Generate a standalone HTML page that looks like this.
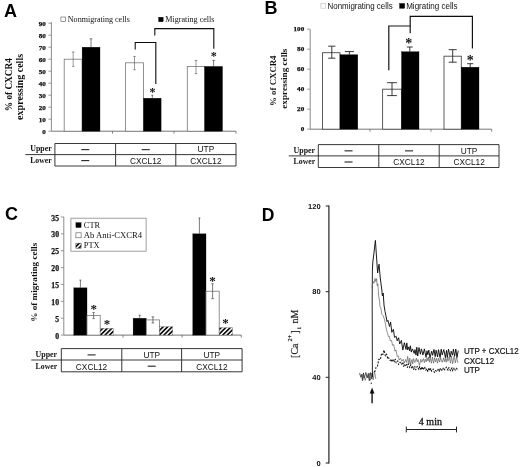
<!DOCTYPE html>
<html lang="en"><head><meta charset="utf-8"><title>Figure</title>
<style>html,body{margin:0;padding:0;background:#fff}body{width:520px;height:467px;overflow:hidden}svg{display:block}.se{font-family:"Liberation Serif",serif}.sa{font-family:"Liberation Sans",sans-serif}</style></head><body>
<svg width="520" height="467" viewBox="0 0 520 467">
<defs><pattern id="hatch" width="3.2" height="3.2" patternUnits="userSpaceOnUse" patternTransform="rotate(-45)"><rect width="3.2" height="3.2" fill="#fff"/><rect width="3.2" height="1.7" fill="#111"/></pattern><filter id="soft" x="-2%" y="-2%" width="104%" height="104%"><feGaussianBlur stdDeviation="0.35"/></filter></defs>
<rect width="520" height="467" fill="#fff"/>
<g filter="url(#soft)">
<text class="sa" x="4.0" y="16.6" font-size="18" font-weight="bold" fill="#000">A</text>
<line x1="51.4" y1="22.1" x2="51.4" y2="131.2" stroke="#808080" stroke-width="0.9"/>
<line x1="51.4" y1="131.2" x2="236" y2="131.2" stroke="#666" stroke-width="0.9"/>
<line x1="48.4" y1="131.2" x2="51.4" y2="131.2" stroke="#808080" stroke-width="0.8"/>
<text class="se" x="45.9" y="133.7" font-size="6.4" font-weight="bold" text-anchor="end" fill="#111" textLength="3.55" lengthAdjust="spacingAndGlyphs" stroke="#111" stroke-width="0.25">0</text>
<line x1="48.4" y1="119.19999999999999" x2="51.4" y2="119.19999999999999" stroke="#808080" stroke-width="0.8"/>
<text class="se" x="45.9" y="121.7" font-size="6.4" font-weight="bold" text-anchor="end" fill="#111" textLength="7.1" lengthAdjust="spacingAndGlyphs" stroke="#111" stroke-width="0.25">10</text>
<line x1="48.4" y1="107.19999999999999" x2="51.4" y2="107.19999999999999" stroke="#808080" stroke-width="0.8"/>
<text class="se" x="45.9" y="109.7" font-size="6.4" font-weight="bold" text-anchor="end" fill="#111" textLength="7.1" lengthAdjust="spacingAndGlyphs" stroke="#111" stroke-width="0.25">20</text>
<line x1="48.4" y1="95.19999999999999" x2="51.4" y2="95.19999999999999" stroke="#808080" stroke-width="0.8"/>
<text class="se" x="45.9" y="97.7" font-size="6.4" font-weight="bold" text-anchor="end" fill="#111" textLength="7.1" lengthAdjust="spacingAndGlyphs" stroke="#111" stroke-width="0.25">30</text>
<line x1="48.4" y1="83.19999999999999" x2="51.4" y2="83.19999999999999" stroke="#808080" stroke-width="0.8"/>
<text class="se" x="45.9" y="85.7" font-size="6.4" font-weight="bold" text-anchor="end" fill="#111" textLength="7.1" lengthAdjust="spacingAndGlyphs" stroke="#111" stroke-width="0.25">40</text>
<line x1="48.4" y1="71.19999999999999" x2="51.4" y2="71.19999999999999" stroke="#808080" stroke-width="0.8"/>
<text class="se" x="45.9" y="73.7" font-size="6.4" font-weight="bold" text-anchor="end" fill="#111" textLength="7.1" lengthAdjust="spacingAndGlyphs" stroke="#111" stroke-width="0.25">50</text>
<line x1="48.4" y1="59.19999999999999" x2="51.4" y2="59.19999999999999" stroke="#808080" stroke-width="0.8"/>
<text class="se" x="45.9" y="61.7" font-size="6.4" font-weight="bold" text-anchor="end" fill="#111" textLength="7.1" lengthAdjust="spacingAndGlyphs" stroke="#111" stroke-width="0.25">60</text>
<line x1="48.4" y1="47.19999999999999" x2="51.4" y2="47.19999999999999" stroke="#808080" stroke-width="0.8"/>
<text class="se" x="45.9" y="49.7" font-size="6.4" font-weight="bold" text-anchor="end" fill="#111" textLength="7.1" lengthAdjust="spacingAndGlyphs" stroke="#111" stroke-width="0.25">70</text>
<line x1="48.4" y1="35.19999999999999" x2="51.4" y2="35.19999999999999" stroke="#808080" stroke-width="0.8"/>
<text class="se" x="45.9" y="37.7" font-size="6.4" font-weight="bold" text-anchor="end" fill="#111" textLength="7.1" lengthAdjust="spacingAndGlyphs" stroke="#111" stroke-width="0.25">80</text>
<line x1="48.4" y1="23.19999999999999" x2="51.4" y2="23.19999999999999" stroke="#808080" stroke-width="0.8"/>
<text class="se" x="45.9" y="25.7" font-size="6.4" font-weight="bold" text-anchor="end" fill="#111" textLength="7.1" lengthAdjust="spacingAndGlyphs" stroke="#111" stroke-width="0.25">90</text>
<line x1="112.5" y1="131.2" x2="112.5" y2="133.7" stroke="#666" stroke-width="0.8"/>
<line x1="174" y1="131.2" x2="174" y2="133.7" stroke="#666" stroke-width="0.8"/>
<line x1="236" y1="131.2" x2="236" y2="133.7" stroke="#666" stroke-width="0.8"/>
<text class="se" transform="translate(11.6 84.7) rotate(-90)" font-size="9.3" font-weight="bold" text-anchor="middle" fill="#111" textLength="53" lengthAdjust="spacingAndGlyphs">% of CXCR4</text>
<text class="se" transform="translate(22.7 86.9) rotate(-90)" font-size="9.6" font-weight="bold" text-anchor="middle" fill="#111" textLength="66" lengthAdjust="spacingAndGlyphs">expressing cells</text>
<rect x="60.90" y="17.00" width="4.60" height="4.60" fill="#fff" stroke="#555" stroke-width="0.6"/>
<text class="se" x="67.8" y="22.2" font-size="8.4" fill="#111" textLength="62" lengthAdjust="spacingAndGlyphs">Nonmigrating cells</text>
<rect x="158.60" y="17.20" width="4.60" height="4.60" fill="#000" stroke="#000" stroke-width="0.3"/>
<text class="se" x="165.2" y="22.2" font-size="8.4" fill="#111" textLength="49.3" lengthAdjust="spacingAndGlyphs">Migrating cells</text>
<rect x="64.20" y="59.20" width="17.90" height="72.00" fill="#fff" stroke="#777" stroke-width="0.8"/>
<rect x="82.10" y="47.20" width="17.90" height="84.00" fill="#000" stroke="#000" stroke-width="0.3"/>
<rect x="125.40" y="62.80" width="18.10" height="68.40" fill="#fff" stroke="#777" stroke-width="0.8"/>
<rect x="143.50" y="98.20" width="17.60" height="33.00" fill="#000" stroke="#000" stroke-width="0.3"/>
<rect x="187.30" y="66.40" width="17.40" height="64.80" fill="#fff" stroke="#777" stroke-width="0.8"/>
<rect x="204.70" y="66.40" width="17.80" height="64.80" fill="#000" stroke="#000" stroke-width="0.3"/>
<line x1="73.2" y1="51.999999999999986" x2="73.2" y2="66.39999999999999" stroke="#555" stroke-width="0.6"/>
<line x1="71.9" y1="51.999999999999986" x2="74.5" y2="51.999999999999986" stroke="#555" stroke-width="0.6"/>
<line x1="71.9" y1="66.39999999999999" x2="74.5" y2="66.39999999999999" stroke="#555" stroke-width="0.6"/>
<line x1="91" y1="38.8" x2="91" y2="47.19999999999999" stroke="#444" stroke-width="0.7"/>
<line x1="89.7" y1="38.8" x2="92.3" y2="38.8" stroke="#444" stroke-width="0.7"/>
<line x1="134.5" y1="56.44" x2="134.5" y2="69.75999999999999" stroke="#555" stroke-width="0.6"/>
<line x1="133.2" y1="56.44" x2="135.8" y2="56.44" stroke="#555" stroke-width="0.6"/>
<line x1="133.2" y1="69.75999999999999" x2="135.8" y2="69.75999999999999" stroke="#555" stroke-width="0.6"/>
<line x1="152.3" y1="95.19999999999999" x2="152.3" y2="98.19999999999999" stroke="#444" stroke-width="0.7"/>
<line x1="151.3" y1="95.19999999999999" x2="153.3" y2="95.19999999999999" stroke="#444" stroke-width="0.7"/>
<line x1="196" y1="60.39999999999999" x2="196" y2="73.6" stroke="#555" stroke-width="0.6"/>
<line x1="194.7" y1="60.39999999999999" x2="197.3" y2="60.39999999999999" stroke="#555" stroke-width="0.6"/>
<line x1="194.7" y1="73.6" x2="197.3" y2="73.6" stroke="#555" stroke-width="0.6"/>
<line x1="213.6" y1="60.39999999999999" x2="213.6" y2="66.39999999999999" stroke="#444" stroke-width="0.7"/>
<line x1="212.29999999999998" y1="60.39999999999999" x2="214.9" y2="60.39999999999999" stroke="#444" stroke-width="0.7"/>
<path d="M154.8 35.6V28.6H213.8V48.8" fill="none" stroke="#111" stroke-width="1.1"/>
<path d="M135.2 49.4V42.5H155.8V84" fill="none" stroke="#111" stroke-width="1.1"/>
<text class="se" x="152.4" y="95.9" font-size="12" font-weight="bold" text-anchor="middle" fill="#111">*</text>
<text class="se" x="213.7" y="60.2" font-size="12" font-weight="bold" text-anchor="middle" fill="#111">*</text>
<line x1="54.9" y1="143.5" x2="236" y2="143.5" stroke="#222" stroke-width="0.9"/>
<line x1="25.3" y1="154.6" x2="236" y2="154.6" stroke="#222" stroke-width="0.9"/>
<line x1="54.9" y1="166.0" x2="236" y2="166.0" stroke="#222" stroke-width="0.9"/>
<line x1="54.9" y1="143.5" x2="54.9" y2="166.0" stroke="#222" stroke-width="0.9"/>
<line x1="236" y1="143.5" x2="236" y2="166.0" stroke="#222" stroke-width="0.9"/>
<line x1="115.6" y1="143.5" x2="115.6" y2="166.0" stroke="#222" stroke-width="0.9"/>
<line x1="175.8" y1="143.5" x2="175.8" y2="166.0" stroke="#222" stroke-width="0.9"/>
<text class="se" x="30.2" y="151.29999999999998" font-size="8.6" font-weight="bold" fill="#111" textLength="21.5" lengthAdjust="spacingAndGlyphs">Upper</text>
<text class="se" x="30.2" y="162.8" font-size="8.6" font-weight="bold" fill="#111" textLength="21.5" lengthAdjust="spacingAndGlyphs">Lower</text>
<line x1="81.25" y1="149.65" x2="89.25" y2="149.65" stroke="#222" stroke-width="1.1"/>
<line x1="81.25" y1="160.60000000000002" x2="89.25" y2="160.60000000000002" stroke="#222" stroke-width="1.1"/>
<line x1="141.7" y1="149.65" x2="149.7" y2="149.65" stroke="#222" stroke-width="1.1"/>
<text class="sa" x="145.7" y="163.8" font-size="8.3" text-anchor="middle" fill="#111">CXCL12</text>
<text class="sa" x="205.9" y="152.4" font-size="8.3" text-anchor="middle" fill="#111">UTP</text>
<text class="sa" x="205.9" y="163.8" font-size="8.3" text-anchor="middle" fill="#111">CXCL12</text>
<text class="sa" x="264.5" y="14.1" font-size="18" font-weight="bold" fill="#000">B</text>
<line x1="310.2" y1="29.3" x2="310.2" y2="129.2" stroke="#808080" stroke-width="0.9"/>
<line x1="310.2" y1="129.2" x2="491.7" y2="129.2" stroke="#666" stroke-width="0.9"/>
<line x1="307.2" y1="129.2" x2="310.2" y2="129.2" stroke="#808080" stroke-width="0.8"/>
<text class="se" x="304.2" y="131.2" font-size="6.4" font-weight="bold" text-anchor="end" fill="#111" textLength="3.55" lengthAdjust="spacingAndGlyphs" stroke="#111" stroke-width="0.25">0</text>
<line x1="307.2" y1="109.19999999999999" x2="310.2" y2="109.19999999999999" stroke="#808080" stroke-width="0.8"/>
<text class="se" x="304.2" y="111.2" font-size="6.4" font-weight="bold" text-anchor="end" fill="#111" textLength="7.1" lengthAdjust="spacingAndGlyphs" stroke="#111" stroke-width="0.25">20</text>
<line x1="307.2" y1="89.19999999999999" x2="310.2" y2="89.19999999999999" stroke="#808080" stroke-width="0.8"/>
<text class="se" x="304.2" y="91.2" font-size="6.4" font-weight="bold" text-anchor="end" fill="#111" textLength="7.1" lengthAdjust="spacingAndGlyphs" stroke="#111" stroke-width="0.25">40</text>
<line x1="307.2" y1="69.19999999999999" x2="310.2" y2="69.19999999999999" stroke="#808080" stroke-width="0.8"/>
<text class="se" x="304.2" y="71.2" font-size="6.4" font-weight="bold" text-anchor="end" fill="#111" textLength="7.1" lengthAdjust="spacingAndGlyphs" stroke="#111" stroke-width="0.25">60</text>
<line x1="307.2" y1="49.19999999999999" x2="310.2" y2="49.19999999999999" stroke="#808080" stroke-width="0.8"/>
<text class="se" x="304.2" y="51.2" font-size="6.4" font-weight="bold" text-anchor="end" fill="#111" textLength="7.1" lengthAdjust="spacingAndGlyphs" stroke="#111" stroke-width="0.25">80</text>
<line x1="307.2" y1="29.19999999999999" x2="310.2" y2="29.19999999999999" stroke="#808080" stroke-width="0.8"/>
<text class="se" x="304.2" y="31.2" font-size="6.4" font-weight="bold" text-anchor="end" fill="#111" textLength="10.65" lengthAdjust="spacingAndGlyphs" stroke="#111" stroke-width="0.25">100</text>
<line x1="370" y1="129.2" x2="370" y2="131.7" stroke="#666" stroke-width="0.8"/>
<line x1="431" y1="129.2" x2="431" y2="131.7" stroke="#666" stroke-width="0.8"/>
<line x1="491.7" y1="129.2" x2="491.7" y2="131.7" stroke="#666" stroke-width="0.8"/>
<text class="se" transform="translate(275.6 80.7) rotate(-90)" font-size="9.0" font-weight="bold" text-anchor="middle" fill="#111" textLength="50.4" lengthAdjust="spacingAndGlyphs">% of CXCR4</text>
<text class="se" transform="translate(286.8 78.7) rotate(-90)" font-size="9.2" font-weight="bold" text-anchor="middle" fill="#111" textLength="60" lengthAdjust="spacingAndGlyphs">expressing cells</text>
<rect x="320.90" y="3.60" width="4.60" height="4.60" fill="#fff" stroke="#bbb" stroke-width="0.6"/>
<text class="sa" x="327.5" y="8.6" font-size="8.2" fill="#111" textLength="65.2" lengthAdjust="spacingAndGlyphs">Nonmigrating cells</text>
<rect x="399.50" y="3.40" width="5.20" height="5.00" fill="#000" stroke="#000" stroke-width="0.3"/>
<text class="sa" x="406.2" y="8.6" font-size="8.2" fill="#111" textLength="51.3" lengthAdjust="spacingAndGlyphs">Migrating cells</text>
<rect x="322.50" y="52.70" width="17.50" height="76.50" fill="#fff" stroke="#4a4a4a" stroke-width="0.9"/>
<rect x="340.00" y="54.70" width="17.80" height="74.50" fill="#000" stroke="#000" stroke-width="0.3"/>
<rect x="382.60" y="89.20" width="18.90" height="40.00" fill="#fff" stroke="#4a4a4a" stroke-width="0.9"/>
<rect x="401.50" y="51.70" width="17.50" height="77.50" fill="#000" stroke="#000" stroke-width="0.3"/>
<rect x="444.00" y="56.20" width="17.30" height="73.00" fill="#fff" stroke="#4a4a4a" stroke-width="0.9"/>
<rect x="461.30" y="67.20" width="17.70" height="62.00" fill="#000" stroke="#000" stroke-width="0.3"/>
<line x1="331.8" y1="46.19999999999999" x2="331.8" y2="58.19999999999999" stroke="#222" stroke-width="0.9"/>
<line x1="328.2" y1="46.19999999999999" x2="335.40000000000003" y2="46.19999999999999" stroke="#222" stroke-width="0.9"/>
<line x1="328.2" y1="58.19999999999999" x2="335.40000000000003" y2="58.19999999999999" stroke="#222" stroke-width="0.9"/>
<line x1="349.4" y1="51.599999999999994" x2="349.4" y2="54.69999999999999" stroke="#222" stroke-width="0.9"/>
<line x1="344.9" y1="51.599999999999994" x2="353.9" y2="51.599999999999994" stroke="#222" stroke-width="0.9"/>
<line x1="392" y1="82.69999999999999" x2="392" y2="95.6" stroke="#222" stroke-width="0.9"/>
<line x1="387.1" y1="82.69999999999999" x2="396.9" y2="82.69999999999999" stroke="#222" stroke-width="0.9"/>
<line x1="387.1" y1="95.6" x2="396.9" y2="95.6" stroke="#222" stroke-width="0.9"/>
<line x1="409.8" y1="46.999999999999986" x2="409.8" y2="51.69999999999999" stroke="#222" stroke-width="0.9"/>
<line x1="406.90000000000003" y1="46.999999999999986" x2="412.7" y2="46.999999999999986" stroke="#222" stroke-width="0.9"/>
<line x1="452.7" y1="49.69999999999999" x2="452.7" y2="62.19999999999999" stroke="#222" stroke-width="0.9"/>
<line x1="448.7" y1="49.69999999999999" x2="456.7" y2="49.69999999999999" stroke="#222" stroke-width="0.9"/>
<line x1="448.7" y1="62.19999999999999" x2="456.7" y2="62.19999999999999" stroke="#222" stroke-width="0.9"/>
<line x1="470.2" y1="63.69999999999999" x2="470.2" y2="67.19999999999999" stroke="#222" stroke-width="0.9"/>
<line x1="467.2" y1="63.69999999999999" x2="473.2" y2="63.69999999999999" stroke="#222" stroke-width="0.9"/>
<path d="M388.8 70.3V26H410.2" fill="none" stroke="#111" stroke-width="1.15"/>
<path d="M410.2 33.3V16.4H472.4V48.5" fill="none" stroke="#111" stroke-width="1.15"/>
<text class="se" x="408.8" y="47.65" font-size="14" font-weight="bold" text-anchor="middle" fill="#111">*</text>
<text class="se" x="470.2" y="64.55" font-size="14" font-weight="bold" text-anchor="middle" fill="#111">*</text>
<line x1="318.3" y1="144.6" x2="499" y2="144.6" stroke="#222" stroke-width="0.9"/>
<line x1="288.8" y1="155.9" x2="499" y2="155.9" stroke="#222" stroke-width="0.9"/>
<line x1="318.3" y1="167.5" x2="499" y2="167.5" stroke="#222" stroke-width="0.9"/>
<line x1="318.3" y1="144.6" x2="318.3" y2="167.5" stroke="#222" stroke-width="0.9"/>
<line x1="499" y1="144.6" x2="499" y2="167.5" stroke="#222" stroke-width="0.9"/>
<line x1="378.8" y1="144.6" x2="378.8" y2="167.5" stroke="#222" stroke-width="0.9"/>
<line x1="439.2" y1="144.6" x2="439.2" y2="167.5" stroke="#222" stroke-width="0.9"/>
<text class="se" x="293.6" y="152.6" font-size="8.6" font-weight="bold" fill="#111" textLength="21.5" lengthAdjust="spacingAndGlyphs">Upper</text>
<text class="se" x="293.6" y="164.3" font-size="8.6" font-weight="bold" fill="#111" textLength="21.5" lengthAdjust="spacingAndGlyphs">Lower</text>
<line x1="344.55" y1="150.85" x2="352.55" y2="150.85" stroke="#222" stroke-width="1.1"/>
<line x1="344.55" y1="162.0" x2="352.55" y2="162.0" stroke="#222" stroke-width="1.1"/>
<line x1="405.0" y1="150.85" x2="413.0" y2="150.85" stroke="#222" stroke-width="1.1"/>
<text class="sa" x="409.0" y="165.3" font-size="8.3" text-anchor="middle" fill="#111">CXCL12</text>
<text class="sa" x="469.1" y="153.70000000000002" font-size="8.3" text-anchor="middle" fill="#111">UTP</text>
<text class="sa" x="469.1" y="165.3" font-size="8.3" text-anchor="middle" fill="#111">CXCL12</text>
<text class="sa" x="5.0" y="219.6" font-size="18" font-weight="bold" fill="#000">C</text>
<line x1="63.8" y1="216.8" x2="63.8" y2="335.1" stroke="#808080" stroke-width="0.9"/>
<line x1="63.8" y1="335.1" x2="241.3" y2="335.1" stroke="#666" stroke-width="0.9"/>
<line x1="60.8" y1="335.1" x2="63.8" y2="335.1" stroke="#808080" stroke-width="0.8"/>
<text class="se" x="59.0" y="338.62" font-size="8.0" font-weight="bold" text-anchor="end" fill="#111" textLength="3.85" lengthAdjust="spacingAndGlyphs" stroke="#111" stroke-width="0.25">0</text>
<line x1="60.8" y1="318.225" x2="63.8" y2="318.225" stroke="#808080" stroke-width="0.8"/>
<text class="se" x="59.0" y="321.75" font-size="8.0" font-weight="bold" text-anchor="end" fill="#111" textLength="3.85" lengthAdjust="spacingAndGlyphs" stroke="#111" stroke-width="0.25">5</text>
<line x1="60.8" y1="301.35" x2="63.8" y2="301.35" stroke="#808080" stroke-width="0.8"/>
<text class="se" x="59.0" y="304.87" font-size="8.0" font-weight="bold" text-anchor="end" fill="#111" textLength="7.7" lengthAdjust="spacingAndGlyphs" stroke="#111" stroke-width="0.25">10</text>
<line x1="60.8" y1="284.475" x2="63.8" y2="284.475" stroke="#808080" stroke-width="0.8"/>
<text class="se" x="59.0" y="288.0" font-size="8.0" font-weight="bold" text-anchor="end" fill="#111" textLength="7.7" lengthAdjust="spacingAndGlyphs" stroke="#111" stroke-width="0.25">15</text>
<line x1="60.8" y1="267.6" x2="63.8" y2="267.6" stroke="#808080" stroke-width="0.8"/>
<text class="se" x="59.0" y="271.12" font-size="8.0" font-weight="bold" text-anchor="end" fill="#111" textLength="7.7" lengthAdjust="spacingAndGlyphs" stroke="#111" stroke-width="0.25">20</text>
<line x1="60.8" y1="250.72500000000002" x2="63.8" y2="250.72500000000002" stroke="#808080" stroke-width="0.8"/>
<text class="se" x="59.0" y="254.25" font-size="8.0" font-weight="bold" text-anchor="end" fill="#111" textLength="7.7" lengthAdjust="spacingAndGlyphs" stroke="#111" stroke-width="0.25">25</text>
<line x1="60.8" y1="233.85000000000002" x2="63.8" y2="233.85000000000002" stroke="#808080" stroke-width="0.8"/>
<text class="se" x="59.0" y="237.37" font-size="8.0" font-weight="bold" text-anchor="end" fill="#111" textLength="7.7" lengthAdjust="spacingAndGlyphs" stroke="#111" stroke-width="0.25">30</text>
<line x1="60.8" y1="216.97500000000002" x2="63.8" y2="216.97500000000002" stroke="#808080" stroke-width="0.8"/>
<text class="se" x="59.0" y="220.5" font-size="8.0" font-weight="bold" text-anchor="end" fill="#111" textLength="7.7" lengthAdjust="spacingAndGlyphs" stroke="#111" stroke-width="0.25">35</text>
<line x1="123" y1="335.1" x2="123" y2="337.6" stroke="#666" stroke-width="0.8"/>
<line x1="182.1" y1="335.1" x2="182.1" y2="337.6" stroke="#666" stroke-width="0.8"/>
<line x1="241.3" y1="335.1" x2="241.3" y2="337.6" stroke="#666" stroke-width="0.8"/>
<text class="se" transform="translate(37.3 282.3) rotate(-90)" font-size="9.2" font-weight="bold" text-anchor="middle" fill="#111" textLength="79" lengthAdjust="spacingAndGlyphs">% of migrating cells</text>
<rect x="70.90" y="218.20" width="75.20" height="33.00" fill="#fff" stroke="#888" stroke-width="0.8"/>
<rect x="75.90" y="222.60" width="5.20" height="5.00" fill="#000" stroke="#000" stroke-width="0.3"/>
<text class="se" x="83.8" y="227.8" font-size="8.4" fill="#111">CTR</text>
<rect x="75.90" y="232.80" width="5.20" height="5.00" fill="#fff" stroke="#555" stroke-width="0.6"/>
<text class="se" x="83.8" y="238.0" font-size="8.4" fill="#111" textLength="58.4" lengthAdjust="spacingAndGlyphs">Ab Anti-CXCR4</text>
<rect x="75.9" y="243.2" width="5.2" height="5" fill="url(#hatch)" stroke="#333" stroke-width="0.5"/>
<text class="se" x="83.8" y="248.3" font-size="8.4" fill="#111">PTX</text>
<rect x="73.80" y="287.85" width="13.20" height="47.25" fill="#000" stroke="#000" stroke-width="0.3"/>
<rect x="87.00" y="315.53" width="13.20" height="19.57" fill="#fff" stroke="#777" stroke-width="0.8"/>
<rect x="100.20" y="328.35" width="13.20" height="6.75" fill="url(#hatch)" stroke="#666" stroke-width="0.35"/>
<rect x="133.10" y="318.23" width="13.20" height="16.88" fill="#000" stroke="#000" stroke-width="0.3"/>
<rect x="146.30" y="319.91" width="13.20" height="15.19" fill="#fff" stroke="#777" stroke-width="0.8"/>
<rect x="159.50" y="326.66" width="13.20" height="8.44" fill="url(#hatch)" stroke="#666" stroke-width="0.35"/>
<rect x="192.80" y="233.85" width="13.20" height="101.25" fill="#000" stroke="#000" stroke-width="0.3"/>
<rect x="206.00" y="291.23" width="13.20" height="43.88" fill="#fff" stroke="#777" stroke-width="0.8"/>
<rect x="219.20" y="327.68" width="13.20" height="7.43" fill="url(#hatch)" stroke="#666" stroke-width="0.35"/>
<line x1="80.4" y1="280.08750000000003" x2="80.4" y2="287.85" stroke="#444" stroke-width="0.7"/>
<line x1="79.4" y1="280.08750000000003" x2="81.4" y2="280.08750000000003" stroke="#444" stroke-width="0.7"/>
<line x1="93.6" y1="312.4875" x2="93.6" y2="318.5625" stroke="#444" stroke-width="0.7"/>
<line x1="92.5" y1="312.4875" x2="94.69999999999999" y2="312.4875" stroke="#444" stroke-width="0.7"/>
<line x1="92.5" y1="318.5625" x2="94.69999999999999" y2="318.5625" stroke="#444" stroke-width="0.7"/>
<line x1="139.7" y1="315.1875" x2="139.7" y2="318.225" stroke="#444" stroke-width="0.7"/>
<line x1="138.7" y1="315.1875" x2="140.7" y2="315.1875" stroke="#444" stroke-width="0.7"/>
<line x1="152.9" y1="316.875" x2="152.9" y2="322.95000000000005" stroke="#444" stroke-width="0.7"/>
<line x1="151.6" y1="316.875" x2="154.20000000000002" y2="316.875" stroke="#444" stroke-width="0.7"/>
<line x1="151.6" y1="322.95000000000005" x2="154.20000000000002" y2="322.95000000000005" stroke="#444" stroke-width="0.7"/>
<line x1="199.4" y1="217.9875" x2="199.4" y2="233.85000000000002" stroke="#444" stroke-width="0.7"/>
<line x1="198.4" y1="217.9875" x2="200.4" y2="217.9875" stroke="#444" stroke-width="0.7"/>
<line x1="212.6" y1="283.8" x2="212.6" y2="298.65000000000003" stroke="#444" stroke-width="0.7"/>
<line x1="211.29999999999998" y1="283.8" x2="213.9" y2="283.8" stroke="#444" stroke-width="0.7"/>
<line x1="211.29999999999998" y1="298.65000000000003" x2="213.9" y2="298.65000000000003" stroke="#444" stroke-width="0.7"/>
<text class="se" x="93.8" y="312.98" font-size="13" font-weight="bold" text-anchor="middle" fill="#111">*</text>
<text class="se" x="107" y="327.68" font-size="13" font-weight="bold" text-anchor="middle" fill="#111">*</text>
<text class="se" x="212.4" y="284.88" font-size="13" font-weight="bold" text-anchor="middle" fill="#111">*</text>
<text class="se" x="225.4" y="326.78" font-size="13" font-weight="bold" text-anchor="middle" fill="#111">*</text>
<line x1="61.3" y1="348.6" x2="242.1" y2="348.6" stroke="#222" stroke-width="0.9"/>
<line x1="31.3" y1="360.0" x2="242.1" y2="360.0" stroke="#222" stroke-width="0.9"/>
<line x1="61.3" y1="371.8" x2="242.1" y2="371.8" stroke="#222" stroke-width="0.9"/>
<line x1="61.3" y1="348.6" x2="61.3" y2="371.8" stroke="#222" stroke-width="0.9"/>
<line x1="242.1" y1="348.6" x2="242.1" y2="371.8" stroke="#222" stroke-width="0.9"/>
<line x1="121.8" y1="348.6" x2="121.8" y2="371.8" stroke="#222" stroke-width="0.9"/>
<line x1="181.6" y1="348.6" x2="181.6" y2="371.8" stroke="#222" stroke-width="0.9"/>
<text class="se" x="35.6" y="356.7" font-size="8.6" font-weight="bold" fill="#111" textLength="21.5" lengthAdjust="spacingAndGlyphs">Upper</text>
<text class="se" x="35.6" y="368.6" font-size="8.6" font-weight="bold" fill="#111" textLength="21.5" lengthAdjust="spacingAndGlyphs">Lower</text>
<line x1="87.55" y1="354.90000000000003" x2="95.55" y2="354.90000000000003" stroke="#222" stroke-width="1.1"/>
<text class="sa" x="91.55" y="369.6" font-size="8.3" text-anchor="middle" fill="#111">CXCL12</text>
<text class="sa" x="151.7" y="357.8" font-size="8.3" text-anchor="middle" fill="#111">UTP</text>
<line x1="147.7" y1="366.2" x2="155.7" y2="366.2" stroke="#222" stroke-width="1.1"/>
<text class="sa" x="211.85" y="357.8" font-size="8.3" text-anchor="middle" fill="#111">UTP</text>
<text class="sa" x="211.85" y="369.6" font-size="8.3" text-anchor="middle" fill="#111">CXCL12</text>
<text class="sa" x="261.8" y="220.9" font-size="17.5" font-weight="bold" fill="#000">D</text>
<line x1="328.9" y1="205.5" x2="328.9" y2="463.4" stroke="#222" stroke-width="1.2"/>
<line x1="325.7" y1="206.0" x2="328.9" y2="206.0" stroke="#222" stroke-width="1.0"/>
<text class="sa" x="320.6" y="208.7" font-size="7.5" font-weight="bold" text-anchor="end" fill="#111">120</text>
<line x1="325.7" y1="291.7" x2="328.9" y2="291.7" stroke="#222" stroke-width="1.0"/>
<text class="sa" x="320.6" y="294.4" font-size="7.5" font-weight="bold" text-anchor="end" fill="#111">80</text>
<line x1="325.7" y1="377.3" x2="328.9" y2="377.3" stroke="#222" stroke-width="1.0"/>
<text class="sa" x="320.6" y="380.0" font-size="7.5" font-weight="bold" text-anchor="end" fill="#111">40</text>
<line x1="325.7" y1="463.0" x2="328.9" y2="463.0" stroke="#222" stroke-width="1.0"/>
<text class="sa" x="320.6" y="465.7" font-size="7.5" font-weight="bold" text-anchor="end" fill="#111">0</text>
<text class="se" transform="translate(298.3 357.9) rotate(-90)" font-size="10" fill="#222" stroke="#222" stroke-width="0.2"><tspan x="0" y="0">[Ca</tspan><tspan x="16.3" y="-6.8" font-size="6.2">2+</tspan><tspan x="24.2" y="0">]</tspan><tspan x="28.8" y="2.4" font-size="6.2">i</tspan><tspan x="34.4" y="0">nM</tspan></text>
<line x1="406.3" y1="429.5" x2="456.5" y2="429.5" stroke="#222" stroke-width="1.0"/>
<line x1="406.3" y1="426.6" x2="406.3" y2="432.4" stroke="#222" stroke-width="1.0"/>
<line x1="456.5" y1="426.6" x2="456.5" y2="432.4" stroke="#222" stroke-width="1.0"/>
<text class="se" x="430.4" y="425.2" font-size="10" text-anchor="middle" fill="#111" stroke="#111" stroke-width="0.3">4 min</text>
<line x1="372.1" y1="403.2" x2="372.1" y2="392.5" stroke="#111" stroke-width="1.4"/>
<path d="M372.1 387.6L374.5 393.6H369.7Z" fill="#111"/>
<text class="sa" x="463.9" y="353.9" font-size="8.4" fill="#111" textLength="54.8" lengthAdjust="spacingAndGlyphs" stroke="#111" stroke-width="0.2">UTP + CXCL12</text>
<text class="sa" x="463.9" y="363.9" font-size="8.4" fill="#111" textLength="30.2" lengthAdjust="spacingAndGlyphs" stroke="#111" stroke-width="0.2">CXCL12</text>
<text class="sa" x="463.9" y="373.2" font-size="8.4" fill="#111" textLength="16" lengthAdjust="spacingAndGlyphs" stroke="#111" stroke-width="0.2">UTP</text>
<path d="M359.6 373.1L360.9 377.3L361.9 374.3L362.6 380.3L363.4 372.9L364.2 378.1L365.8 372.5L367.4 377.7L368.3 373.4L369.3 380.8L370.5 372.6L371.7 378.8L372.6 372.6" fill="none" stroke="#222" stroke-width="0.75"/>
<path d="M361.5 374.3L362.5 380.9L363.5 374.1L365.2 380.4L366.9 375.2L368.4 378.1L369.2 373.1L370.5 380.2L372.0 373.0L373.2 379.8L374.4 370.9L375.8 378.9" fill="none" stroke="#444" stroke-width="0.6"/>
<circle cx="371.3" cy="383.2" r="0.7" fill="#333"/>
<path d="M372.4 377L372.2 300L372.4 270" fill="none" stroke="#111" stroke-width="0.9"/>
<path d="M372.4 270L372.8 262L373.6 256L375.4 240.4L376.6 258L377.6 273L379.0 264.2L380.4 279L381.8 290L382.4 296L383.2 293L384.0 305L385.0 311.5L385.6 314.0L387.0 321.6L387.9 320.3L389.5 326.5L390.6 322.0L391.8 332.3L393.4 329.3L394.5 337.3L396.2 336.4L397.2 340.8L398.6 337.7L399.7 344.0L401.4 340.4L402.8 350.0L404.4 342.7L406.0 349.5L406.8 342.9L407.7 349.9L408.8 346.9L409.7 350.8L410.4 345.8L411.3 352.1L412.4 348.9L414.2 353.4L415.0 349.6L416.0 355.1L416.8 347.2L417.7 356.0L419.0 347.6L420.4 354.2L421.4 348.9L422.9 355.0L424.4 348.9L426.0 357.4L427.0 350.8L427.8 354.8L428.8 350.2L430.0 357.7L431.7 351.2L432.6 355.3L434.0 349.4L435.2 356.7L436.1 350.2L437.6 357.0L438.5 349.7L440.1 357.7L441.2 349.2L442.2 354.9L443.8 349.6L445.4 357.7L446.5 350.4L447.3 357.6L448.5 349.1L450.2 357.1L451.2 351.2L452.5 355.2L453.4 349.2L454.6 356.3L455.8 349.1L457.0 357.5L458.2 350.6" fill="none" stroke="#111" stroke-width="0.95" stroke-linejoin="round"/>
<path d="M372.2 288L372.3 286L373.0 281.4L374.0 283.2L375.0 278.4L375.8 281.6L376.5 278.6L377.2 285.6L377.9 283.8L378.6 296L379.4 300L380 306.5L380.9 308L381.8 314.3L383.4 316L384.6 320L385.2 322.6L386.5 329.8L387.6 333.4L388.4 336.6L389.3 336.2L390.4 341.0L391.5 340.4L392.6 345.4L393.7 344.6L395.0 351.2L395.9 349.9L397.3 356.4L398.3 355.9L399.1 360.1L400.5 358.1L401.7 361.3L403.3 359.2L404.3 363.1L405.7 359.4L406.8 362.7L407.7 356.3L408.9 364.1L409.8 358.1L410.5 364.6L412.0 359.6L412.7 364.0L413.5 358.6L414.9 362.5L416.4 358.1L417.1 361.8L418.1 359.5L419.4 365.4L420.8 359.3L421.8 362.3L423.3 358.6L424.4 362.7L425.2 359.1L426.2 361.9L427.1 357.7L428.0 361.0L428.7 356.9L429.5 362.2L430.3 356.6L431.4 363.2L432.5 357.0L433.5 363.2L434.7 357.7L435.4 361.8L436.7 358.2L437.4 363.2L438.7 358.1L439.6 362.1L440.7 358.1L442.2 362.3L443.7 357.9L444.3 361.8L445.4 358.2L446.1 362.3L447.1 358.1L448.0 361.3L449.2 356.6L450.5 363.1L451.4 355.9L452.7 363.8L454.1 356.2L455.4 362.9L456.5 357.2L457.9 362.9" fill="none" stroke="#555" stroke-width="0.65" stroke-linejoin="round"/>
<path d="M374.2 371.7L375.1 371.2L376.2 366.8L377.5 366.1L378.8 359.2L380.3 359.7L381.6 353.2L383.0 354.5L384.0 350.1L385.4 356.0L386.5 354.0L387.9 359.0L388.7 357.7L390.2 360.6L390.9 359.1L392.3 362.0L393.3 359.2L394.4 361.8L395.3 359.2L396.1 362.9L397.7 360.9L398.6 364.6L399.9 362.2L401.6 364.3L402.8 362.0L403.7 366.4L404.5 364.1L405.6 366.1L406.7 364.4L407.4 367.5L408.2 364.0L409.8 367.7L410.9 364.8L412.0 368.4L412.7 366.6L413.7 369.5L414.7 366.2L415.8 369.8L417.3 366.3L418.9 369.6L419.7 366.5L421.1 370.1L421.9 366.5L423.0 369.9L424.5 366.8L425.8 370.2L426.9 368.6L427.8 371.6L428.8 367.7L429.9 370.8L430.7 368.5L431.7 371.4L433.3 369.0L434.4 372.4L435.4 370.5L437.1 371.6L438.4 368.6L439.4 371.4L440.5 368.1L442.1 370.8L443.5 367.6L444.8 369.9L446.4 367.1L448.0 370.3L448.9 367.5L450.5 370.7L452.0 367.7L452.7 370.9L454.3 367.6L455.2 370.2L456.6 368.2L457.8 370.9" fill="none" stroke="#111" stroke-width="1.05" stroke-dasharray="1.9 1.4" stroke-linejoin="round"/>
</g></svg></body></html>
